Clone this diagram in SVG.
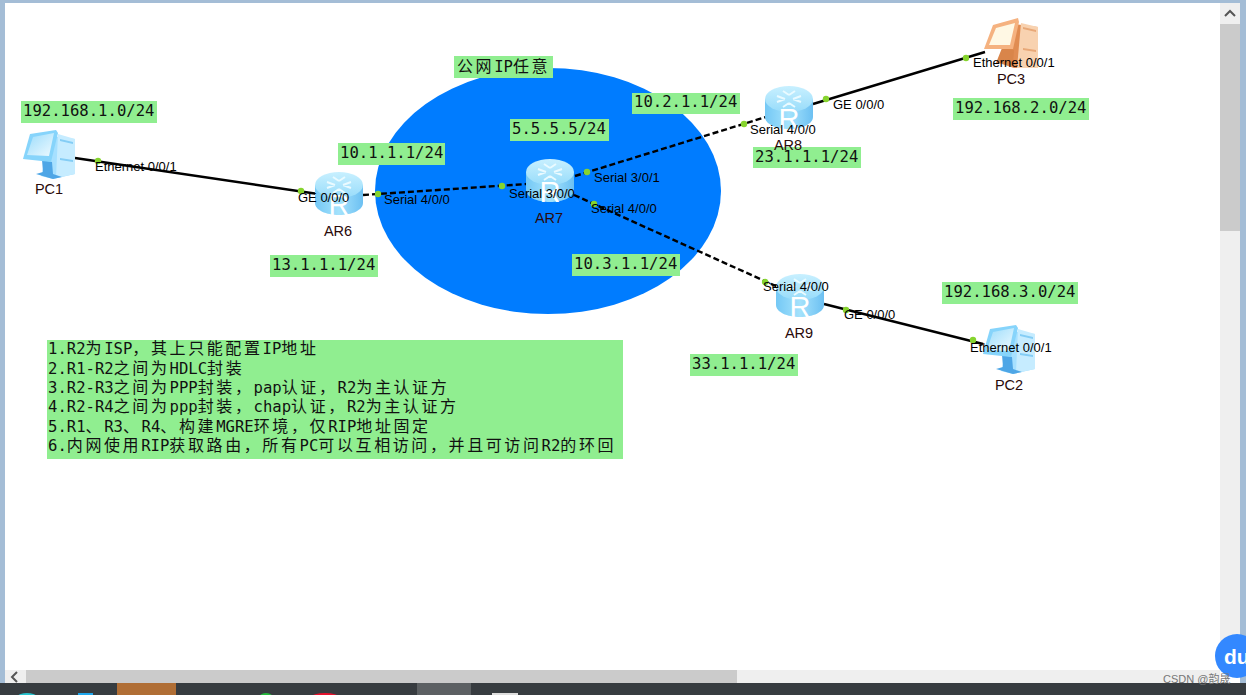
<svg xmlns="http://www.w3.org/2000/svg" width="1246" height="695" viewBox="0 0 1246 695">
<style>
.lb{fill:#90ee90}
.m{font-family:"DejaVu Sans Mono","Noto Sans CJK SC",monospace;font-size:15.6px;fill:#111}
.n{font-family:"DejaVu Sans Mono",monospace;font-size:15.6px;fill:#111}
.c{font-family:"Noto Sans CJK SC",sans-serif;font-size:16px;letter-spacing:2.6px}
.if{font-family:"Liberation Sans",Arial,sans-serif;font-size:13px;fill:#000}
.nm{font-family:"Liberation Sans",Arial,sans-serif;font-size:14.5px;fill:#2a0a0a;text-anchor:middle}
.solid{stroke:#000;stroke-width:2.4;fill:none}
.dash{stroke:#000;stroke-width:2.4;fill:none;stroke-dasharray:6 3}
.dot{fill:#86d42e}
.rl{fill:#fff;font-family:"Liberation Sans",Arial,sans-serif;font-size:29px;text-anchor:middle}
</style>
<defs>
<linearGradient id="rs" x1="0" x2="1" y1="0" y2="0"><stop offset="0" stop-color="#74c8f5"/><stop offset=".5" stop-color="#a4e2fc"/><stop offset="1" stop-color="#6cc0f2"/></linearGradient>
<linearGradient id="rt" x1="0" x2="0" y1="0" y2="1"><stop offset="0" stop-color="#c8f0ff"/><stop offset="1" stop-color="#98dcfa"/></linearGradient>
<linearGradient id="sc" x1="0" x2="1" y1="0" y2="1"><stop offset="0" stop-color="#9bdcfb"/><stop offset="1" stop-color="#eefaff"/></linearGradient>
<g id="router">
<path d="M0 13V31C0 38 11 43 24 43S48 38 48 31V13Z" fill="url(#rs)"/>
<ellipse cx="24" cy="13" rx="24" ry="13" fill="url(#rt)"/>
<path d="M12 10l8 3M12 16l8-3M36 10l-8 3M36 16l-8-3M18 5l6 4M30 5l-6 4M18 21l6-4M30 21l-6-4" stroke="#eafaff" stroke-width="2" fill="none"/>
<text class="rl" x="24" y="43">R</text>
</g>
<g id="pcb">
<path d="M29 6L52 9V44L30 49L18 46Z" fill="#a6e0ff"/>
<path d="M35 4L52 9V44L33 48Z" fill="#c6ecff"/>
<path d="M37 9l13 3v2l-13-3zM37 28l13 2v2l-13-2z" fill="#84cdf5"/>
<path d="M19 30L29 32L30 44L39 47L30 49L13 44L20 42Z" fill="#4ea6e6"/>
<path d="M7 4L33 0L35 3L28 32L0 29Z" fill="#86d4fb"/>
<path d="M10 7L31 3L26 26L4 25Z" fill="url(#sc)"/>
</g>
<g id="pco">
<path d="M29 6L54 9V50L30 50L18 46Z" fill="#e08c52"/>
<path d="M37 5L54 9V50L33 50Z" fill="#f8d2b0"/>
<path d="M39 9l13 3v2l-13-3zM39 30l13 2v2l-13-2z" fill="#e8a878"/>
<path d="M18 30L30 32L29 47L12 45Z" fill="#d9854a"/>
<path d="M9 7L34 0L35 4L29 31L0 31Z" fill="#f5b280"/>
<path d="M12 10L31 5L26 27L5 27Z" fill="#fff8e4"/>
</g>
</defs>
<rect width="1246" height="695" fill="#fff"/>
<g id="chrome">
<rect x="0" y="0" width="1246" height="3" fill="#a4bdd6"/>
<rect x="0" y="0" width="5" height="683" fill="#a4bdd6"/>
<rect x="1240" y="0" width="6" height="683" fill="#a4bdd6"/>
<rect x="1220" y="3" width="20" height="667" fill="#efefef"/>
<rect x="1220" y="24" width="20" height="207" fill="#cbcbcb"/>
<path d="M1225 16l5-5 5 5" fill="none" stroke="#555" stroke-width="2"/>
<rect x="5" y="670" width="1215" height="13" fill="#efefef"/>
<rect x="26" y="670" width="711" height="13" fill="#cbcbcb"/>
<path d="M17 672l-5 5 5 5" fill="none" stroke="#555" stroke-width="2"/>
<rect x="0" y="683" width="1246" height="12" fill="#373c40"/>
<rect x="117" y="683" width="59" height="12" fill="#b06e35"/>
<rect x="417" y="683" width="54" height="12" fill="#5c6063"/>
<rect x="492" y="693" width="26" height="2" fill="#ddd"/>
<ellipse cx="27" cy="696" rx="9" ry="3" fill="#27c4cf"/>
<rect x="78" y="693" width="15" height="2" fill="#1ea7ee"/>
<ellipse cx="266" cy="696" rx="6" ry="3" fill="#23b83c"/>
<ellipse cx="325" cy="697" rx="14" ry="4" fill="#e8102c"/>
</g>
<ellipse id="cloud" cx="548" cy="191" rx="173" ry="123" fill="#007cff"/>
<g id="connectors">
<path class="solid" d="M75 158L318 194"/>
<path class="dash" d="M363 195L527 184"/>
<path class="dash" d="M575 176L766 117"/>
<path class="dash" d="M574 195L778 287"/>
<path class="solid" d="M813 104L985 52"/>
<path class="solid" d="M824 304L983 344"/>
</g>
<g id="node-PC1"><use href="#pcb" x="23" y="130"/><text class="nm" x="49" y="194">PC1</text></g>
<g id="node-AR6"><use href="#router" x="315" y="172"/><text class="nm" x="338" y="236">AR6</text></g>
<g id="node-AR7"><use href="#router" x="526" y="159"/><text class="nm" x="549" y="223">AR7</text></g>
<g id="node-AR9"><use href="#router" x="776" y="274"/><text class="nm" x="799" y="338">AR9</text></g>
<g id="node-PC3"><use href="#pco" x="984" y="18"/><text class="nm" x="1011" y="84">PC3</text></g>
<g id="node-PC2"><use href="#pcb" x="983" y="325"/><text class="nm" x="1009" y="390">PC2</text></g>
<g id="labels">
<rect class="lb" x="21" y="101" width="136" height="22"/><text class="m" x="23" y="116">192.168.1.0/24</text>
<rect class="lb" x="338" y="143" width="107" height="22"/><text class="m" x="340" y="158">10.1.1.1/24</text>
<rect class="lb" x="270" y="255" width="108" height="22"/><text class="m" x="272" y="270">13.1.1.1/24</text>
<rect class="lb" x="454" y="56" width="99" height="22"/><text class="m" x="457" y="72"><tspan class="c">公网</tspan>IP<tspan class="c">任意</tspan></text>
<rect class="lb" x="510" y="119" width="99" height="22"/><text class="m" x="512" y="134">5.5.5.5/24</text>
<rect class="lb" x="632" y="93" width="108" height="21"/><text class="m" x="634" y="107">10.2.1.1/24</text>
<rect class="lb" x="753" y="147" width="108" height="21"/><text class="m" x="755" y="162">23.1.1.1/24</text>
<rect class="lb" x="953" y="98" width="136" height="22"/><text class="m" x="955" y="113">192.168.2.0/24</text>
<rect class="lb" x="572" y="254" width="108" height="22"/><text class="m" x="574" y="269">10.3.1.1/24</text>
<rect class="lb" x="942" y="282" width="136" height="22"/><text class="m" x="944" y="297">192.168.3.0/24</text>
<rect class="lb" x="690" y="354" width="108" height="22"/><text class="m" x="692" y="369">33.1.1.1/24</text>
</g>
<g id="node-AR8"><use href="#router" x="765" y="86"/><text class="nm" x="788" y="150">AR8</text></g>
<g id="ports">
<circle class="dot" cx="98" cy="161" r="3.2"/><circle class="dot" cx="301" cy="191" r="3.2"/>
<circle class="dot" cx="378" cy="194" r="3.2"/><circle class="dot" cx="502" cy="186" r="3.2"/>
<circle class="dot" cx="587" cy="172" r="3.2"/><circle class="dot" cx="744" cy="124" r="3.2"/>
<circle class="dot" cx="594" cy="204" r="3.2"/><circle class="dot" cx="765" cy="282" r="3.2"/>
<circle class="dot" cx="826" cy="99" r="3.2"/><circle class="dot" cx="966" cy="58" r="3.2"/>
<circle class="dot" cx="846" cy="310" r="3.2"/><circle class="dot" cx="973" cy="340" r="3.2"/>
<text class="if" x="95" y="171">Ethernet 0/0/1</text>
<text class="if" x="298" y="202">GE 0/0/0</text>
<text class="if" x="384" y="204">Serial 4/0/0</text>
<text class="if" x="509" y="198">Serial 3/0/0</text>
<text class="if" x="594" y="182">Serial 3/0/1</text>
<text class="if" x="591" y="213">Serial 4/0/0</text>
<text class="if" x="750" y="134">Serial 4/0/0</text>
<text class="if" x="833" y="109">GE 0/0/0</text>
<text class="if" x="973" y="67">Ethernet 0/0/1</text>
<text class="if" x="763" y="291">Serial 4/0/0</text>
<text class="if" x="844" y="319">GE 0/0/0</text>
<text class="if" x="970" y="352">Ethernet 0/0/1</text>
</g>
<g id="notes">
<rect class="lb" x="47" y="340" width="576" height="119"/>
<text class="n" x="48" y="354">1.R2<tspan class="c">为</tspan>ISP<tspan class="c">&#xFF0C;其上只能配置</tspan>IP<tspan class="c">地址</tspan></text>
<text class="n" x="48" y="374">2.R1-R2<tspan class="c">之间为</tspan>HDLC<tspan class="c">封装</tspan></text>
<text class="n" x="48" y="393">3.R2-R3<tspan class="c">之间为</tspan>PPP<tspan class="c">封装&#xFF0C;</tspan>pap<tspan class="c">认证&#xFF0C;</tspan>R2<tspan class="c">为主认证方</tspan></text>
<text class="n" x="48" y="412">4.R2-R4<tspan class="c">之间为</tspan>ppp<tspan class="c">封装&#xFF0C;</tspan>chap<tspan class="c">认证&#xFF0C;</tspan>R2<tspan class="c">为主认证方</tspan></text>
<text class="n" x="48" y="432">5.R1<tspan class="c">、</tspan>R3<tspan class="c">、</tspan>R4<tspan class="c">、构建</tspan>MGRE<tspan class="c">环境&#xFF0C;仅</tspan>RIP<tspan class="c">地址固定</tspan></text>
<text class="n" x="48" y="451">6.<tspan class="c">内网使用</tspan>RIP<tspan class="c">获取路由&#xFF0C;所有</tspan>PC<tspan class="c">可以互相访问&#xFF0C;并且可访问</tspan>R2<tspan class="c">的环回</tspan></text>
</g>
<g id="overlay">
<circle cx="1237" cy="656" r="22" fill="#3388ff"/>
<text x="1224" y="664" font-family="Liberation Sans, Arial, sans-serif" font-size="21" font-weight="bold" fill="#fff">du</text>
<text x="1163" y="683" font-family="Liberation Sans, 'Noto Sans CJK SC', sans-serif" font-size="11" fill="#777">CSDN @韵晟</text>
</g>
</svg>
